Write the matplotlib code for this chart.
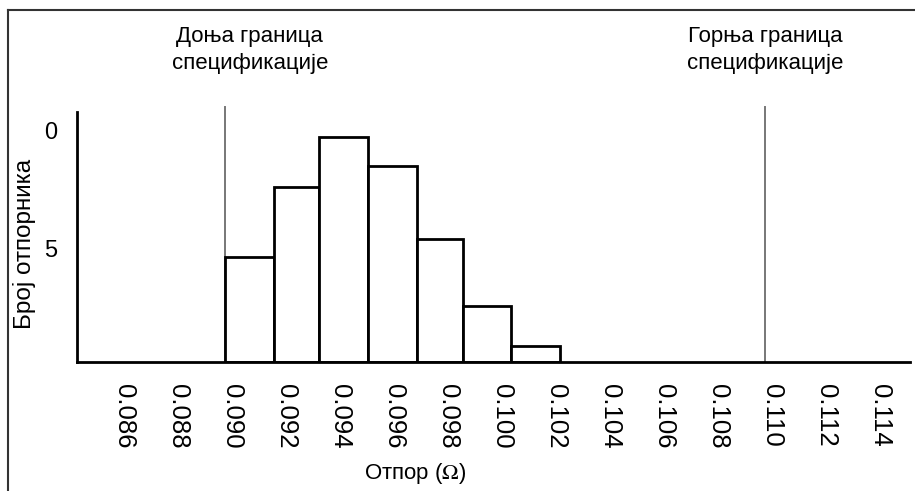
import numpy as np
import matplotlib.pyplot as plt
from matplotlib.lines import Line2D
from matplotlib.transforms import ScaledTranslation

plt.rcParams['font.family'] = ['Liberation Sans', 'DejaVu Sans']
plt.rcParams['mathtext.fontset'] = 'stix'

# histogram data (bin edges in ohms, bar heights as drawn)
bin_edges = [0.0900, 0.0918, 0.0935, 0.0953, 0.0971, 0.0988, 0.1006, 0.1024]
bar_heights = [4.47, 7.44, 9.56, 8.33, 5.23, 2.39, 0.66]

# specification limits
lower_limit = 0.090
upper_limit = 0.110
lower_label = "Доња граница\nспецификације"
upper_label = "Горња граница\nспецификације"

x_ticks = [0.086, 0.088, 0.090, 0.092, 0.094, 0.096, 0.098, 0.100,
           0.102, 0.104, 0.106, 0.108, 0.110, 0.112, 0.114]
x_tick_labels = [f"{v:.3f}" for v in x_ticks]
y_tick_values = [9.83, 4.83]
y_tick_labels = ["0", "5"]

fig = plt.figure(figsize=(9.15, 4.91), dpi=100)
ax = fig.add_axes([0.0842, 0.2627, 0.9103, 0.5092])

edges = np.array(bin_edges)
ax.bar(edges[:-1], bar_heights, width=np.diff(edges), align='edge',
       facecolor='white', edgecolor='black', linewidth=2)

# spec limit lines, sticking a bit above the axis top
for xv in (lower_limit, upper_limit):
    ax.axvline(xv, ymin=0, ymax=1.02, color='#777777', linewidth=1.4,
               clip_on=False, zorder=0)

ax.set_xlim(0.08452, 0.11537)
ax.set_ylim(0, 10.6)

for s in ('top', 'right'):
    ax.spines[s].set_visible(False)
ax.spines['left'].set_linewidth(2)
ax.spines['bottom'].set_linewidth(2)

ax.set_xticks(x_ticks)
ax.set_xticklabels(x_tick_labels, rotation=270, fontsize=18.5)
ax.tick_params(axis='x', length=0, pad=16)
offset = ScaledTranslation(0.07, 0, fig.dpi_scale_trans)
for lbl in ax.get_xticklabels():
    lbl.set_transform(lbl.get_transform() + offset)

ax.set_yticks(y_tick_values)
ax.set_yticklabels(y_tick_labels, fontsize=17)
ax.tick_params(axis='y', length=0, pad=14)

fig.text(0.027, 0.503, "Број отпорника", rotation=90, fontsize=17.5,
         ha='center', va='center')
fig.text(0.454, 0.035, "Отпор ($\\Omega$)", fontsize=16, ha='center', va='center')

fig.text(0.273, 0.898, lower_label, fontsize=16, ha='center', va='center',
         linespacing=1.35)
fig.text(0.836, 0.898, upper_label, fontsize=16, ha='center', va='center',
         linespacing=1.35)

# frame lines (left and top) of the original picture
fig.add_artist(Line2D([8 / 915, 8 / 915], [0, 1 - 10 / 491], color='#333333', linewidth=1.5))
fig.add_artist(Line2D([8 / 915, 1], [1 - 10 / 491, 1 - 10 / 491], color='#333333', linewidth=1.5))

fig.savefig("out.png", dpi=100)
